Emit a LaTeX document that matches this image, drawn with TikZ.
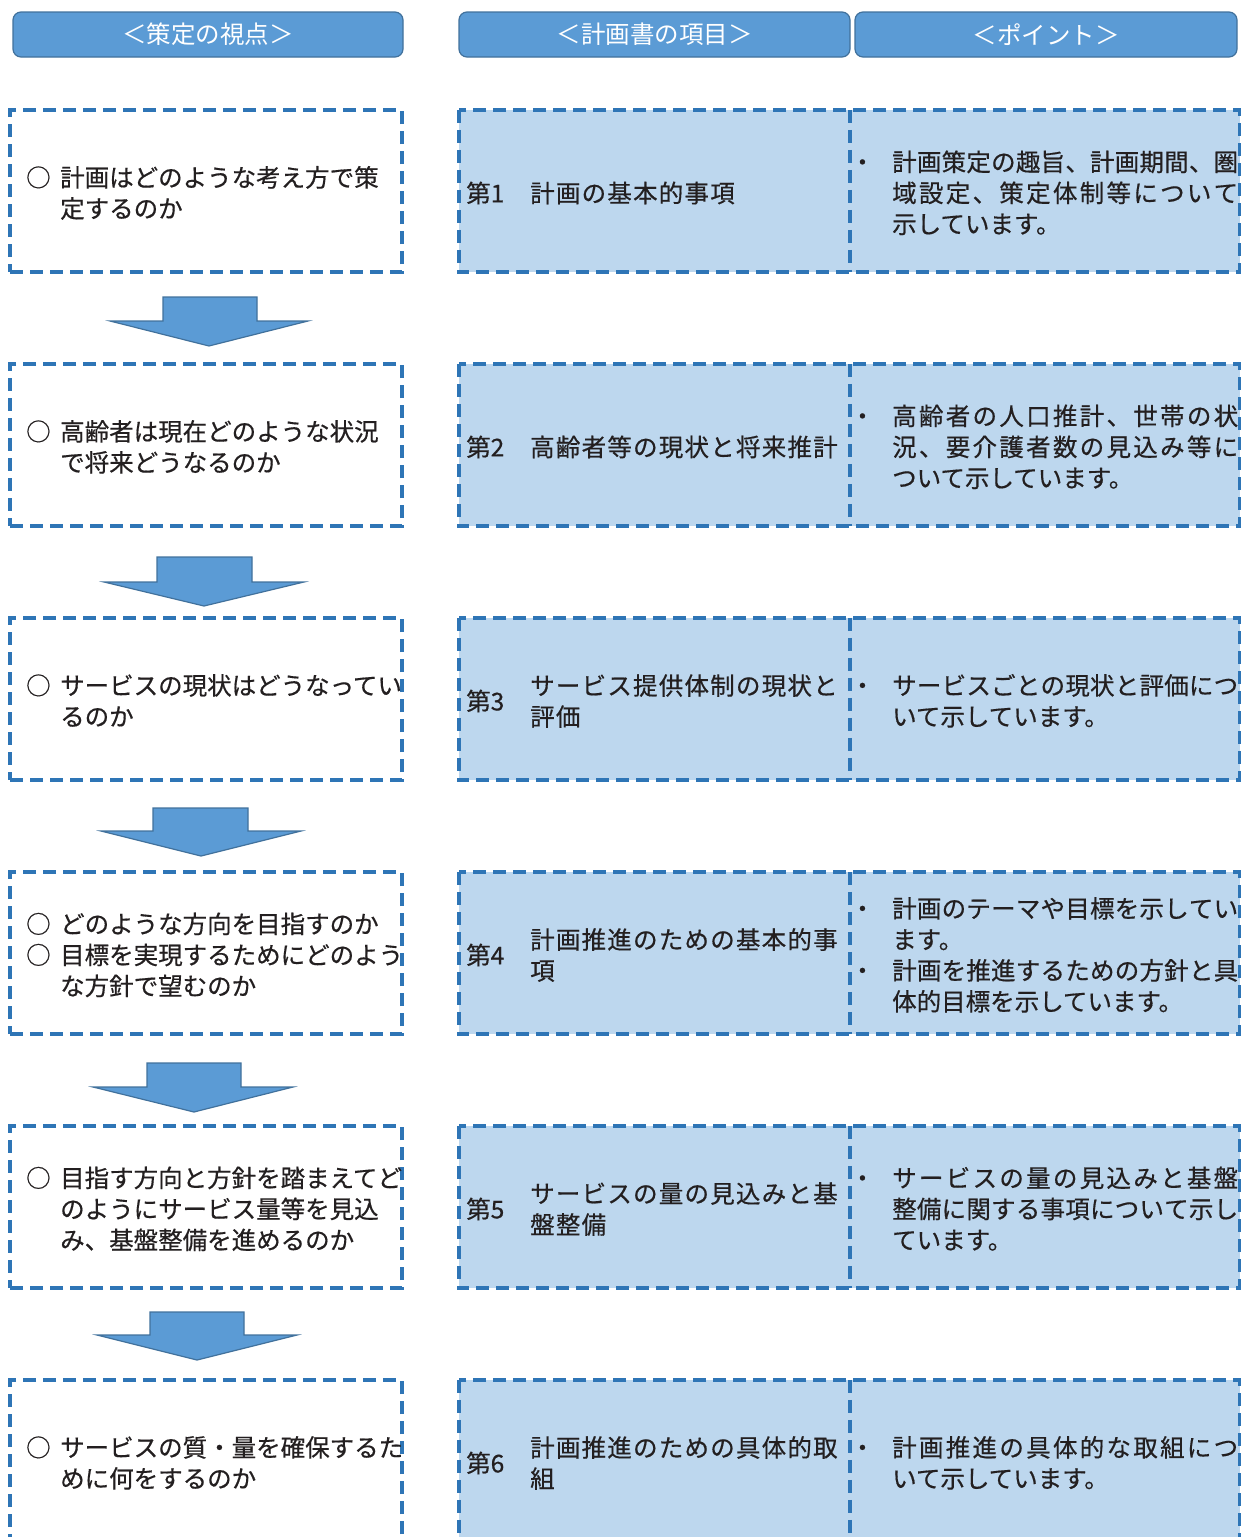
\documentclass[tikz,border=0pt]{standalone}
\usepackage{fontspec}
\setmainfont{Noto Sans CJK JP}
\newfontfamily\bodyfont{Noto Sans CJK JP}[FakeBold=0.5]
\newfontfamily\midfont{Noto Sans CJK JP}[FakeBold=0.5,LetterSpace=5]
\definecolor{hdrfill}{HTML}{5B9BD5}
\definecolor{hdrline}{HTML}{41719C}
\definecolor{dashc}{HTML}{2E75B6}
\definecolor{cellfill}{HTML}{BDD7EE}
\definecolor{txt}{HTML}{231F20}
\newcommand\jfull[1]{\makebox[346pt][s]{\jfirst#1\relax}}
\def\jfirst#1{#1\jrest}
\def\jrest#1{\ifx#1\relax\else\hfil#1\expandafter\jrest\fi}
\tikzset{
  hdr/.style={draw=hdrline, fill=hdrfill, rounded corners=8pt, line width=1.2pt,
    text=white, font=\fontsize{24.5}{30}\selectfont, minimum height=45pt, inner sep=0pt},
  leftbox/.style={draw=dashc, line width=3.5pt, dash pattern=on 13pt off 7pt, fill=white,
    minimum width=392pt, minimum height=162pt, inner sep=0pt},
  cell/.style={fill=cellfill, minimum height=162pt, inner sep=0pt},
  frame/.style={draw=dashc, line width=3.5pt, dash pattern=on 13pt off 7pt},
  body/.style={text=txt, font=\bodyfont\fontsize{24.5}{31}\selectfont, inner sep=0pt, anchor=west, align=left},
  midtext/.style={body, font=\midfont\fontsize{24.5}{31}\selectfont},
  bigarrow/.style={fill=hdrfill, draw=hdrline, line width=1.2pt, line join=miter}
}
\newcommand\lbul[1]{\begin{tabular}{@{}l@{\hspace{9.5pt}}l@{}}#1\end{tabular}}
\newcommand\rbul[1]{\begin{tabular}{@{}l@{\hspace{17.5pt}}l@{}}#1\end{tabular}}
\begin{document}
\begin{tikzpicture}[x=1pt,y=-1pt]
\useasboundingbox (0,0) rectangle (1241,1537);
\clip (0,0) rectangle (1241,1537);
% headers
\node[hdr, minimum width=390pt] (H1) at (208,34.5) {＜策定の視点＞};
\node[hdr, minimum width=391pt] (H2) at (654.5,34.5) {＜計画書の項目＞};
\node[hdr, minimum width=382pt] (H3) at (1046,34.5) {＜ポイント＞};
% rows
\foreach \i in {1,...,6}{
  \pgfmathsetmacro\cy{191+254*(\i-1)}
  \node[leftbox] (L\i) at (206,\cy) {};
  \node[cell, minimum width=391pt] (M\i) at (654.5,\cy) {};
  \node[cell, minimum width=390pt] (P\i) at (1045,\cy) {};
  \draw[frame] (M\i.north west) rectangle (P\i.south east);
  \draw[frame] (P\i.north west) -- (P\i.south west);
}
% arrows
\draw[bigarrow] (163,297) -- (257,297) -- (257,321) -- (308,321) -- (209,346) -- (110,321) -- (163,321) -- cycle;
\draw[bigarrow] (157,557) -- (252,557) -- (252,582) -- (304,582) -- (204,606) -- (104,582) -- (157,582) -- cycle;
\draw[bigarrow] (153,808) -- (248,808) -- (248,831) -- (301,831) -- (201,856) -- (101,831) -- (153,831) -- cycle;
\draw[bigarrow] (147,1063) -- (241,1063) -- (241,1087) -- (293,1087) -- (194,1112) -- (93,1087) -- (147,1087) -- cycle;
\draw[bigarrow] (150,1312) -- (244,1312) -- (244,1335) -- (297,1335) -- (197,1360) -- (97,1335) -- (150,1335) -- cycle;
% left texts
\def\dy{5}
\def\sy{2}
\node[body] (LT1) at (26,191+\dy) {\lbul{○ & 計画はどのような考え方で策\\ & 定するのか}};
\node[body] (LT2) at (26,445+\dy) {\lbul{○ & 高齢者は現在どのような状況\\ & で将来どうなるのか}};
\node[body] (LT3) at (26,699+\dy) {\lbul{○ & サービスの現状はどうなってい\\ & るのか}};
\node[body] (LT4) at (26,953+\dy) {\lbul{○ & どのような方向を目指すのか\\ ○ & 目標を実現するためにどのよう\\ & な方針で望むのか}};
\node[body] (LT5) at (26,1207+\dy) {\lbul{○ & 目指す方向と方針を踏まえてど\\ & のようにサービス量等を見込\\ & み、基盤整備を進めるのか}};
\node[body] (LT6) at (26,1461+\dy) {\lbul{○ & サービスの質・量を確保するた\\ & めに何をするのか}};
% middle texts
\node[body] (MN1) at (466,191+\sy) {第1};
\node[midtext] (MT1) at (530,191+\sy) {計画の基本的事項};
\node[body] (MN2) at (466,445+\sy) {第2};
\node[midtext] (MT2) at (530,445+\sy) {高齢者等の現状と将来推計};
\node[body] (MN3) at (466,699+\sy) {第3};
\node[midtext] (MT3) at (530,699+\sy) {サービス提供体制の現状と\\評価};
\node[body] (MN4) at (466,953+\sy) {第4};
\node[midtext] (MT4) at (530,953+\sy) {計画推進のための基本的事\\項};
\node[body] (MN5) at (466,1207+\sy) {第5};
\node[midtext] (MT5) at (530,1207+\sy) {サービスの量の見込みと基\\盤整備};
\node[body] (MN6) at (466,1461+\sy) {第6};
\node[midtext] (MT6) at (530,1461+\sy) {計画推進のための具体的取\\組};
% right texts
\node[body] (PT1) at (850,191+\dy) {\rbul{・ & \jfull{計画策定の趣旨、計画期間、圏}\\ & \jfull{域設定、策定体制等について}\\ & 示しています。}};
\node[body] (PT2) at (850,445+\dy) {\rbul{・ & \jfull{高齢者の人口推計、世帯の状}\\ & \jfull{況、要介護者数の見込み等に}\\ & ついて示しています。}};
\node[body] (PT3) at (850,699+\dy) {\rbul{・ & \jfull{サービスごとの現状と評価につ}\\ & いて示しています。}};
\node[body] (PT4) at (850,953+\dy) {\rbul{・ & \jfull{計画のテーマや目標を示してい}\\ & ます。\\ ・ & \jfull{計画を推進するための方針と具}\\ & 体的目標を示しています。}};
\node[body] (PT5) at (850,1207+\dy) {\rbul{・ & \jfull{サービスの量の見込みと基盤}\\ & \jfull{整備に関する事項について示し}\\ & ています。}};
\node[body] (PT6) at (850,1461+\dy) {\rbul{・ & \jfull{計画推進の具体的な取組につ}\\ & いて示しています。}};
\end{tikzpicture}
\end{document}
